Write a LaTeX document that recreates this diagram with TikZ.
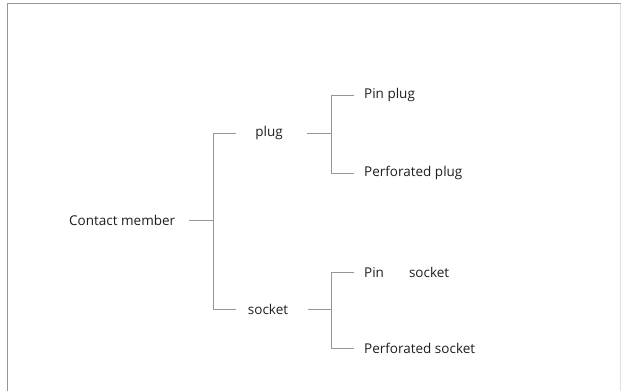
\documentclass[tikz,border=0pt]{standalone}
\usepackage{fontspec}
\setmainfont{Open Sans}
\usepackage{xcolor}
\usepackage{tikz}
\definecolor{treegray}{RGB}{150,150,150}
\definecolor{textdark}{RGB}{30,30,30}
\tikzset{
  leaf/.style={font=\fontsize{13.5}{16}\selectfont, text=textdark, inner sep=0pt},
  branch/.style={draw=treegray, line width=1pt},
}
\begin{document}
\begin{tikzpicture}[x=1pt, y=-1pt]
  \useasboundingbox (0,0) rectangle (621,391);
  % frame
  \draw[draw=treegray, line width=1.6pt] (7.5,391) -- (7.5,3.5) -- (621,3.5);
  \draw[draw=treegray!30, line width=0.8pt] (620,3.5) -- (620,391);
  % nodes
  \node[leaf, anchor=west] (root) at (69,220) {Contact member};
  \node[leaf] (plug) at (269,133) {plug};
  \node[leaf] (socket) at (268,309) {socket};
  \node[leaf, anchor=west] (pinplug) at (364,95) {Pin plug};
  \node[leaf, anchor=west] (perfplug) at (364,173) {Perforated plug};
  \node[leaf, anchor=west] (pinsocket) at (364,272) {Pin\hspace*{25pt}socket};
  \node[leaf, anchor=west] (perfsocket) at (364,348) {Perforated socket};
  % junctions
  \coordinate (j1) at (213,220);
  \coordinate (j2) at (331,133);
  \coordinate (j3) at (331,309);
  % connectors
  \draw[branch] (root.east -| 189,0) -- (j1);
  \draw[branch] (plug.west -| 236,0) -- (plug.west -| j1) -- (socket.west -| j1) -- (socket.west -| 236,0);
  \draw[branch] (plug.east -| 307,0) -- (j2);
  \draw[branch] (pinplug.west -| 354,0) -- (pinplug.west -| j2) -- (perfplug.west -| j2) -- (perfplug.west -| 354,0);
  \draw[branch] (socket.east -| 308,0) -- (j3);
  \draw[branch] (pinsocket.west -| 354,0) -- (pinsocket.west -| j3) -- (perfsocket.west -| j3) -- (perfsocket.west -| 354,0);
\end{tikzpicture}
\end{document}
